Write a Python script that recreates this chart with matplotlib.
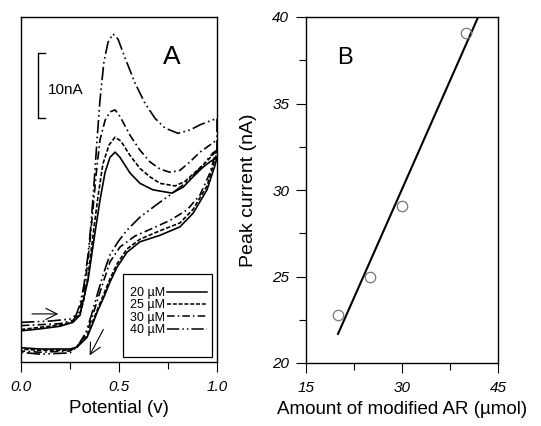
import numpy as np
import matplotlib
matplotlib.use("Agg")
import matplotlib.pyplot as plt
from matplotlib.patches import Rectangle
from matplotlib.ticker import MultipleLocator

plt.rcParams['font.family'] = ['Liberation Sans', 'DejaVu Sans']

# ---------------- Data: panel A (cyclic voltammograms) ----------------
concentrations = ["20 µM", "25 µM", "30 µM", "40 µM"]

# forward scans (potential V, current nA)
fwd_v_20 = [0, .097, .199, .265, .301, .316, .342, .372, .403, .429, .454, .480, .505, .556, .607, .673, .770, .827, .878, .929, .964, 1.0]
fwd_i_20 = [4.8, 5.1, 5.5, 6.1, 7.2, 9.3, 12.6, 18.8, 24.9, 29.2, 31.5, 32.3, 31.5, 29.1, 27.5, 26.5, 26.0, 26.9, 28.5, 30.0, 30.8, 31.5]
rev_v_20 = [1.0, .990, .949, .878, .811, .709, .607, .541, .490, .454, .423, .393, .367, .337, .286, .250, .097, 0]
rev_i_20 = [31.5, 30.3, 26.5, 22.9, 20.8, 19.5, 18.5, 16.9, 14.6, 12.3, 10.0, 8.0, 6.0, 3.8, 2.3, 2.0, 2.0, 2.2]

fwd_v_25 = [0, .199, .265, .301, .321, .342, .367, .393, .418, .449, .480, .510, .556, .607, .658, .709, .786, .837, .888, .939, 1.0]
fwd_i_25 = [5.0, 5.7, 6.2, 7.4, 9.6, 13.2, 19.4, 25.5, 30.5, 33.4, 34.6, 34.0, 31.8, 29.8, 28.5, 27.5, 27.1, 27.8, 29.2, 30.6, 32.6]
rev_v_25 = [1.0, .949, .878, .811, .709, .607, .541, .490, .454, .423, .393, .367, .337, .286, .250, .097, 0]
rev_i_25 = [32.2, 27.1, 23.5, 21.4, 20.2, 18.9, 17.4, 15.1, 12.8, 10.5, 8.3, 6.3, 4.0, 2.3, 1.8, 1.8, 2.0]

fwd_v_30 = [0, .199, .265, .296, .321, .342, .362, .383, .403, .429, .454, .480, .505, .556, .607, .658, .709, .760, .811, .862, .913, .964, 1.0]
fwd_i_30 = [5.6, 5.9, 6.4, 7.6, 10.9, 15.7, 21.8, 28.8, 34.2, 37.2, 38.5, 38.8, 37.8, 34.9, 32.6, 30.8, 29.7, 29.2, 29.5, 30.8, 32.3, 33.4, 34.2]
rev_v_30 = [1.0, .964, .913, .847, .760, .673, .582, .505, .454, .423, .393, .362, .332, .286, .250, .097, 0]
rev_i_30 = [32.9, 29.1, 25.7, 23.4, 21.8, 20.6, 19.4, 17.7, 15.4, 12.6, 9.8, 6.8, 4.2, 2.5, 1.7, 1.5, 1.7]

fwd_v_40 = [0, .148, .250, .281, .301, .321, .342, .357, .372, .388, .403, .423, .444, .469, .495, .531, .582, .633, .684, .735, .801, .862, .913, .964, 1.0]
fwd_i_40 = [6.1, 6.3, 6.6, 7.2, 8.9, 11.8, 16.5, 21.1, 27.2, 34.2, 40.3, 46.2, 49.2, 50.5, 49.7, 46.8, 42.9, 39.8, 37.5, 36.0, 35.2, 35.7, 36.5, 37.1, 37.5]
rev_v_40 = [1.0, .980, .913, .837, .760, .709, .607, .541, .495, .454, .423, .393, .362, .332, .291, .250, .097, 0]
rev_i_40 = [32.6, 32.2, 29.8, 27.5, 25.7, 24.6, 22.3, 20.3, 18.5, 16.5, 13.8, 10.8, 7.5, 4.6, 2.5, 1.4, 1.2, 1.5]

# ---------------- Data: panel B ----------------
amount_ar = [20, 25, 30, 40]
peak_current = [22.8, 25.0, 29.1, 39.1]

# ---------------- Figure ----------------
W, H = 541, 426
fig = plt.figure(figsize=(W / 100, H / 100), dpi=100)

axA = fig.add_axes([21 / W, (H - 362) / H, 196 / W, 345 / H])
axB = fig.add_axes([306 / W, (H - 363) / H, 192 / W, 346 / H])

styles = [
    dict(linestyle='-'),
    dict(linestyle=(0, (2.6, 1.2))),
    dict(linestyle=(0, (5, 2, 1, 2))),
    dict(linestyle=(0, (8, 2, 1, 2, 1, 2))),
]
series = [
    (fwd_v_20, fwd_i_20, rev_v_20, rev_i_20),
    (fwd_v_25, fwd_i_25, rev_v_25, rev_i_25),
    (fwd_v_30, fwd_i_30, rev_v_30, rev_i_30),
    (fwd_v_40, fwd_i_40, rev_v_40, rev_i_40),
]
for (fv, fi, rv, ri), st in zip(series, styles):
    v = np.concatenate([fv, rv])
    i = np.concatenate([fi, ri])
    axA.plot(v, i, color='black', lw=1.2, **st)

axA.set_xlim(0, 1.0)
axA.set_ylim(0, 53.1)
axA.set_yticks([])
axA.xaxis.set_minor_locator(MultipleLocator(0.25))
axA.set_xticks([0, 0.5, 1.0])
axA.set_xticklabels(['0.0', '0.5', '1.0'], fontstyle='italic', fontsize=11)
axA.tick_params(axis='x', which='major', direction='out', length=7, width=0.8, pad=6)
axA.tick_params(axis='x', which='minor', direction='out', length=5, width=0.8)
axA.set_xlabel('Potential (v)', fontsize=13.5, labelpad=4)
for sp in axA.spines.values():
    sp.set_linewidth(1.0)

# scale bar
axA.plot([0.122, 0.087, 0.087, 0.122], [37.5, 37.5, 47.5, 47.5], color='black', lw=1.0)
axA.text(0.135, 41.8, '10nA', fontsize=11, ha='left', va='center')
axA.text(0.770, 0.884, 'A', transform=axA.transAxes, fontsize=19, ha='center', va='center')

# scan direction arrows
axA.annotate('', xy=(0.19, 7.4), xytext=(0.056, 7.4),
             arrowprops=dict(arrowstyle='->', lw=0.8, color='black', mutation_scale=20,
                             shrinkA=0, shrinkB=0))
axA.annotate('', xy=(0.35, 1.0), xytext=(0.42, 5.0),
             arrowprops=dict(arrowstyle='->', lw=0.8, color='black', mutation_scale=20,
                             shrinkA=0, shrinkB=0))

# legend (drawn by hand to mirror the original box)
axA.add_patch(Rectangle((0.52, 0.0145), 0.454, 0.2405, transform=axA.transAxes,
                        fill=True, facecolor='white', edgecolor='black', lw=0.9, zorder=5))
row_y = [0.200, 0.165, 0.128, 0.093]
for lab, st, yy in zip(concentrations, styles, row_y):
    axA.text(0.556, yy, lab, transform=axA.transAxes, fontsize=9, ha='left', va='center', zorder=6)
    axA.plot([0.745, 0.949], [yy + 0.004, yy + 0.004], transform=axA.transAxes,
             color='black', lw=1.1, zorder=6, **st)

# ---------------- Panel B ----------------
coef = np.polyfit(amount_ar, peak_current, 1)
xfit = np.array([min(amount_ar), 45])
axB.plot(xfit, np.polyval(coef, xfit), color='black', lw=1.5)
axB.plot(amount_ar, peak_current, 'o', mfc='none', mec='#777777', mew=0.9, ms=7.5, clip_on=False)

axB.set_xlim(15, 45)
axB.set_ylim(20, 40)
axB.set_xticks([15, 30, 45])
axB.set_yticks([20, 25, 30, 35, 40])
axB.xaxis.set_minor_locator(MultipleLocator(7.5))
axB.yaxis.set_minor_locator(MultipleLocator(2.5))
axB.set_xticklabels(['15', '30', '45'], fontstyle='italic', fontsize=11)
axB.set_yticklabels(['20', '25', '30', '35', '40'], fontstyle='italic', fontsize=11)
axB.tick_params(which='major', direction='out', length=7, width=0.8, pad=5)
axB.tick_params(which='minor', direction='out', length=5, width=0.8)
axB.tick_params(axis='x', which='major', pad=6)
axB.set_xlabel('Amount of modified AR (µmol)', fontsize=13.5, labelpad=4)
axB.set_ylabel('Peak current (nA)', fontsize=14, labelpad=11)
axB.text(0.203, 0.881, 'B', transform=axB.transAxes, fontsize=17, ha='center', va='center')
for sp in axB.spines.values():
    sp.set_linewidth(1.0)

fig.savefig('out.png', dpi=100)
